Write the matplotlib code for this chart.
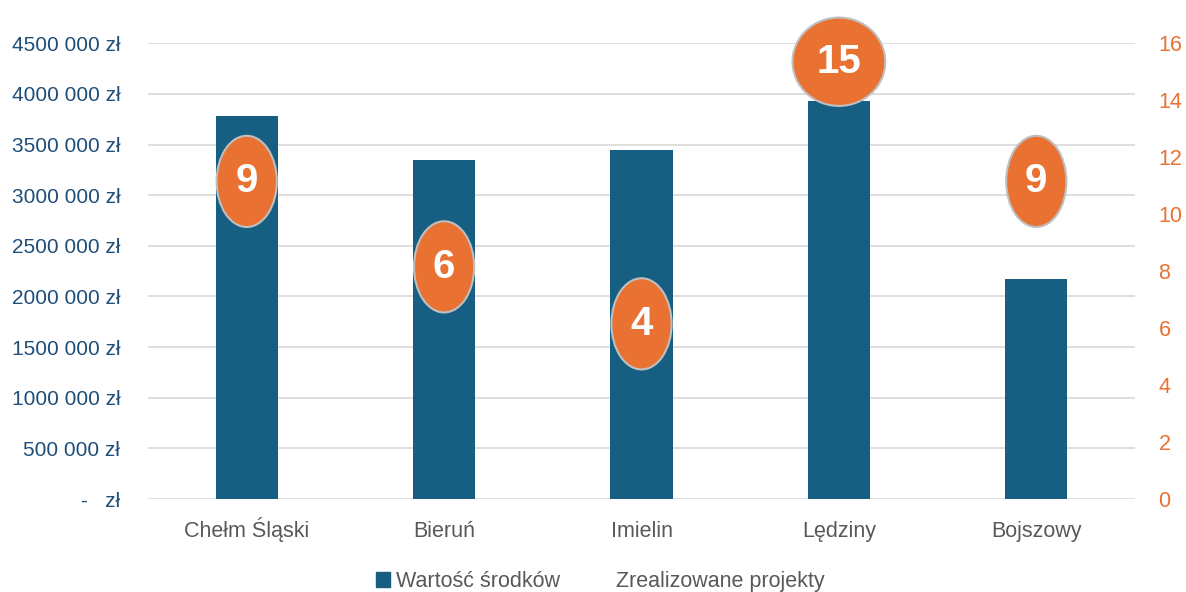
import matplotlib.pyplot as plt
from matplotlib.patches import Ellipse
from matplotlib.lines import Line2D
from matplotlib.ticker import FuncFormatter, MultipleLocator

# data
gminy = ['Chełm Śląski', 'Bieruń', 'Imielin', 'Lędziny', 'Bojszowy']
wartosc = [3780000, 3345000, 3445000, 3928000, 2170000]
projekty = [9, 6, 4, 15, 9]

bar_color = '#175F82'
orange = '#E97132'
plt.rcParams['font.family'] = ['Liberation Sans', 'DejaVu Sans']

fig = plt.figure(figsize=(11.86, 5.92), dpi=100)
ax = fig.add_axes([0.1248, 0.157, 0.957 - 0.1248, 0.927 - 0.157])
ax2 = ax.twinx()

x = range(len(gminy))
ax.bar(x, wartosc, width=0.315, color=bar_color, zorder=2)
ax.set_xlim(-0.5, len(gminy) - 0.5)
ax.set_ylim(0, 4500000)
ax.yaxis.set_major_locator(MultipleLocator(500000))

def zl(v, pos):
    v = int(round(v))
    if v == 0:
        return '-   zł'
    return f'{v // 1000} {v % 1000:03d} zł'

ax.yaxis.set_major_formatter(FuncFormatter(zl))
ax.grid(axis='y', color='#D9D9D9', linewidth=1.2, zorder=0)
ax.set_axisbelow(True)
ax.set_xticks(list(x))
ax.set_xticklabels(gminy, fontsize=15.5, color='#595959', va='baseline')
ax.tick_params(axis='y', colors='#1F4E79', labelsize=15, length=0, pad=20)
ax.tick_params(axis='x', length=0, pad=27)
for s in ax.spines.values():
    s.set_visible(False)

# secondary axis: number of projects shown as labelled ellipses
ax2.set_ylim(0, 16)
ax2.yaxis.set_major_locator(MultipleLocator(2))
ax2.tick_params(axis='y', colors=orange, labelsize=15.5, length=0, pad=17)
for s in ax2.spines.values():
    s.set_visible(False)
ax2.plot(list(x), projekty, linestyle='none')

for i, p in enumerate(projekty):
    txt = str(p)
    yc = min(p + 2.15, 15.35)
    w = 0.305 + 0.165 * (len(txt) - 1)
    h = 3.2 if len(txt) == 1 else 3.1
    e = Ellipse((i, yc), w, h, facecolor=orange, edgecolor='#BFBFBF',
                linewidth=1.5, zorder=5, clip_on=False)
    ax2.add_patch(e)
    ax2.text(i, yc, txt, ha='center', va='center', color='white',
             fontsize=29, fontweight='bold', zorder=6)

handles = [plt.Rectangle((0, 0), 1, 1, color=bar_color),
           Line2D([], [], linestyle='none')]
fig.legend(handles, ['Wartość środków', 'Zrealizowane projekty'],
           loc='lower center', bbox_to_anchor=(0.506, -0.033), ncol=2,
           frameon=False, fontsize=15.5, labelcolor='#595959',
           handlelength=0.65, handleheight=0.65, handletextpad=0.3,
           columnspacing=1.63)

fig.savefig('out.png', dpi=100)
